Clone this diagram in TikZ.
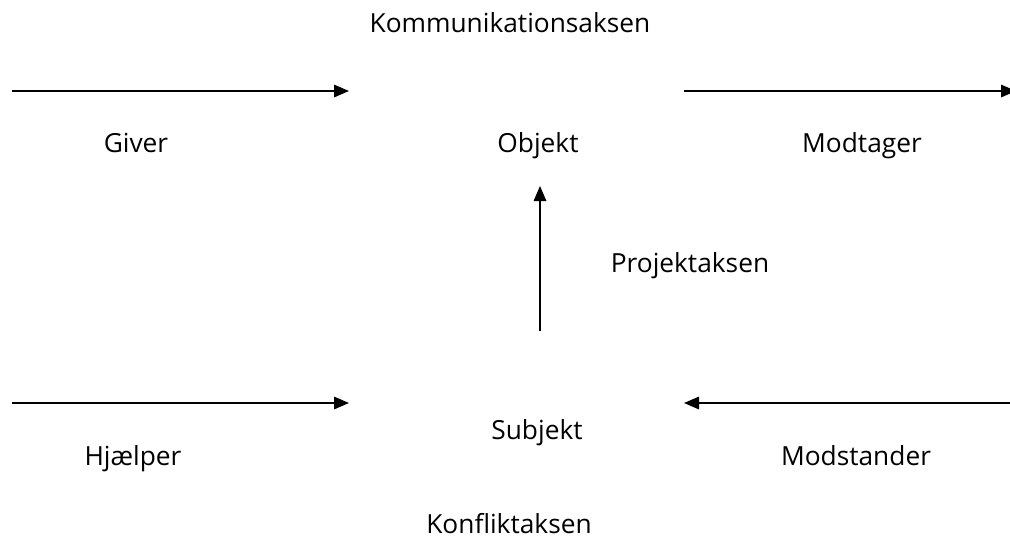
\documentclass[tikz,border=0pt]{standalone}
\usepackage{fontspec}
\setmainfont{Open Sans}
\usetikzlibrary{arrows.meta}
\begin{document}
\begin{tikzpicture}[x=1pt,y=-1pt,
  lbl/.style={font=\fontsize{26.3}{31}\selectfont,inner sep=0pt,anchor=base},
  axis/.style={line width=1.6pt,-{Triangle[length=15pt,width=12.5pt]}}]
\useasboundingbox (0,0) rectangle (1010,539);
\node[lbl] (komm) at (510,32) {Kommunikationsaksen};
\node[lbl] (giver) at (136,152) {Giver};
\node[lbl] (objekt) at (538,152) {Objekt};
\node[lbl] (modtager) at (862,152) {Modtager};
\node[lbl] (projekt) at (690,272) {Projektaksen};
\node[lbl] (subjekt) at (537,439) {Subjekt};
\node[lbl] (hjaelper) at (133,465) {Hjælper};
\node[lbl] (modstander) at (856,465) {Modstander};
\node[lbl] (konflikt) at (509,533) {Konfliktaksen};
\coordinate (a1s) at (12,91);
\coordinate (a1e) at (349,91);
\coordinate (a2s) at (684,91);
\coordinate (a2e) at (1016,91);
\coordinate (vs) at (540,331);
\coordinate (ve) at (540,186);
\coordinate (b1s) at (12,403);
\coordinate (b1e) at (349,403);
\coordinate (b2s) at (1012,403);
\coordinate (b2e) at (684,403);
\draw[axis] (a1s) -- (a1e);
\draw[axis] (a2s) -- (a2e);
\draw[axis] (vs) -- (ve);
\draw[axis] (b1s) -- (b1e);
\draw[axis] (b2s) -- (b2e);
\end{tikzpicture}
\end{document}
